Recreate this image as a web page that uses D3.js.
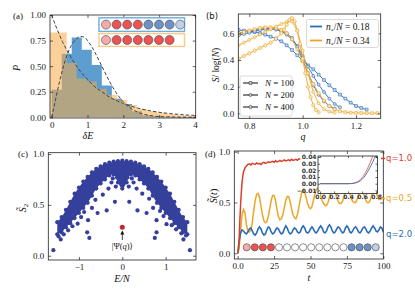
<!DOCTYPE html>
<html lang="en">
<head>
<meta charset="utf-8">
<title>Four panels</title>
<script src="https://cdnjs.cloudflare.com/ajax/libs/d3/7.8.5/d3.min.js"></script>
<style>
  body { margin: 0; background: #fff; }
  svg { display: block; }
</style>
</head>
<body>
<script>
// ---------- data: panel (a) ----------
var binW = 0.28;
var blueStart = 0.0;
var blueHist = [0.27, 0.62, 0.78, 0.66, 0.51, 0.31, 0.18, 0.13, 0.06, 0.02, 0.01, 0.005, 0.003, 0.002, 0.001];
var orangeStart = -0.14;
var orangeHist = [0.83, 0.83, 0.53, 0.38, 0.35, 0.28, 0.22, 0.17, 0.12, 0.08, 0.06, 0.045, 0.03, 0.02, 0.015];
var poisS = [0, 0.1, 0.2, 0.3, 0.4, 0.5, 0.6, 0.8, 1.0, 1.2, 1.4, 1.6, 1.8, 2.0, 2.4, 2.8, 3.2, 3.6, 4.0];
var poisP = [1.0, 0.905, 0.82, 0.74, 0.67, 0.61, 0.55, 0.45, 0.37, 0.30, 0.25, 0.20, 0.165, 0.135, 0.09, 0.06, 0.04, 0.027, 0.018];
var wigS = [0, 0.1, 0.2, 0.3, 0.4, 0.5, 0.6, 0.7, 0.8, 0.9, 1.0, 1.1, 1.2, 1.3, 1.4, 1.6, 1.8, 2.0, 2.2, 2.4, 2.7, 3.0, 3.5, 4.0];
var wigP = [0, 0.16, 0.32, 0.46, 0.58, 0.67, 0.73, 0.77, 0.79, 0.785, 0.75, 0.70, 0.64, 0.57, 0.50, 0.36, 0.24, 0.15, 0.09, 0.05, 0.02, 0.007, 0.002, 0];
var chainBlue = ["p", "r", "r", "r", "b", "b", "b", "l"];
var chainOrange = ["p", "r", "r", "r", "r", "r", "r"];

// ---------- data: panel (b) ----------
var qB100 = [0.76,0.78,0.80,0.82,0.84,0.86,0.88,0.90,0.92,0.94,0.96,0.98,1.00,1.02,1.04,1.06,1.08,1.10,1.12,1.14,1.16,1.18,1.20,1.22,1.24];
var sB100 = [0.625,0.62,0.615,0.61,0.60,0.59,0.575,0.56,0.54,0.51,0.475,0.435,0.395,0.36,0.33,0.29,0.25,0.21,0.175,0.14,0.11,0.08,0.055,0.04,0.028];
var qB200 = [0.76,0.78,0.80,0.82,0.84,0.86,0.88,0.90,0.92,0.94,0.96,0.98,1.00,1.02,1.04,1.06,1.08,1.10,1.12,1.14];
var sB200 = [0.60,0.61,0.615,0.625,0.63,0.635,0.635,0.63,0.615,0.59,0.555,0.505,0.43,0.35,0.28,0.215,0.16,0.11,0.07,0.045];
var qB400 = [0.76,0.78,0.80,0.82,0.84,0.86,0.88,0.90,0.92,0.94,0.96,0.98,1.00,1.02,1.04,1.06,1.08,1.10,1.12];
var sB400 = [0.585,0.595,0.605,0.615,0.625,0.63,0.635,0.63,0.62,0.60,0.565,0.50,0.40,0.30,0.21,0.14,0.09,0.055,0.035];
var qO100 = [0.76,0.78,0.80,0.82,0.84,0.86,0.88,0.90,0.92,0.94,0.96,0.98,1.00,1.02,1.04,1.06,1.08,1.10,1.12,1.14,1.16,1.18,1.20,1.22,1.24,1.26,1.28];
var sO100 = [0.60,0.61,0.62,0.63,0.64,0.645,0.645,0.64,0.625,0.60,0.555,0.48,0.39,0.30,0.22,0.15,0.095,0.055,0.03,0.015,0.008,0.005,0.003,0.002,0.001,0.001,0.001];
var qO200 = [0.76,0.78,0.80,0.82,0.84,0.86,0.88,0.90,0.92,0.94,0.96,0.98,1.00,1.02,1.04,1.06,1.08,1.10,1.12];
var sO200 = [0.51,0.53,0.55,0.57,0.59,0.61,0.63,0.65,0.67,0.685,0.69,0.62,0.47,0.30,0.16,0.075,0.03,0.012,0.005];
var qO400 = [0.76,0.78,0.80,0.82,0.84,0.86,0.88,0.90,0.92,0.93,0.94,0.95,0.96,0.97,0.98,0.99,1.00,1.01,1.02,1.03,1.04,1.05,1.06];
var sO400 = [0.41,0.43,0.45,0.47,0.49,0.51,0.53,0.56,0.60,0.63,0.665,0.70,0.715,0.69,0.62,0.52,0.41,0.30,0.20,0.12,0.06,0.025,0.008];
var sizeLabels = ["N = 100", "N = 200", "N = 400"];
var fracLabels = ["0.18", "0.34"];

// ---------- data: panel (c) ----------
var bandE   = [-1.5,-1.4,-1.3,-1.2,-1.1,-1.0,-0.9,-0.8,-0.7,-0.6,-0.5,-0.4,-0.3,-0.2,-0.1,0,0.1,0.2,0.3,0.4,0.5,0.6,0.7,0.8,0.9,1.0,1.1,1.2,1.3,1.4,1.5];
var bandTop = [0.33,0.38,0.45,0.53,0.61,0.67,0.73,0.775,0.82,0.855,0.88,0.90,0.915,0.925,0.93,0.935,0.93,0.925,0.915,0.90,0.88,0.855,0.82,0.775,0.73,0.67,0.61,0.53,0.45,0.38,0.33];
var bandBot = [0.21,0.23,0.28,0.32,0.37,0.42,0.47,0.52,0.59,0.66,0.71,0.75,0.79,0.80,0.72,0.66,0.72,0.80,0.79,0.75,0.71,0.66,0.59,0.52,0.47,0.42,0.37,0.32,0.28,0.23,0.21];
var looseE = [-1.59,-1.42,-1.47,-1.35,-1.25,-1.15,-1.03,-0.95,-0.81,-0.76,-0.79,-0.88,-0.70,-0.57,-0.62,-0.45,-0.36,-0.17,-0.32,-0.25,-0.15,-0.22,-0.12,
              1.56,1.41,1.47,1.36,1.24,1.14,1.02,0.95,0.79,0.75,0.79,0.87,0.71,0.56,0.62,0.46,0.35,0.16,0.33,0.26,0.15,0.22,0.12];
var looseS = [0.055,0.16,0.19,0.21,0.25,0.29,0.315,0.38,0.23,0.175,0.35,0.43,0.47,0.42,0.55,0.60,0.445,0.53,0.66,0.72,0.68,0.76,0.77,
              0.055,0.16,0.20,0.22,0.26,0.30,0.31,0.39,0.23,0.175,0.35,0.44,0.47,0.42,0.56,0.61,0.445,0.53,0.66,0.72,0.68,0.76,0.77];
var stateE = 0, stateS = 0.28;

// ---------- data: panel (d) ----------
var tRed = [0,0.5,1,1.5,2,2.5,3,3.5,4,5,6,7,8,9,10,11,12,13,14,15,16,17,18,19,20,21,22,23,24,25,26,27,28,29,30,31,32,33,34,35,36,37,38,39,40,41,42,43];
var sRed = [0,0.03,0.15,0.33,0.48,0.6,0.7,0.76,0.8,
  0.84,0.86,0.875,0.88,0.87,0.885,0.88,0.875,0.89,0.88,0.885,0.875,0.89,0.895,0.885,0.89,0.9,0.895,0.9,0.905,
  0.895,0.91,0.9,0.905,0.915,0.905,0.91,0.92,0.91,0.915,0.92,0.91,0.925,0.915,0.92,0.925,0.915,0.93,0.925];
var tGrid = d3.range(0, 101);
var sOrange = [0,0.05,0.22,0.38,0.43,0.40,0.28,0.22,0.21,0.23,
  0.30,0.42,0.52,0.58,0.59,0.55,0.46,0.38,0.32,0.30,
  0.31,0.36,0.44,0.52,0.57,0.57,0.52,0.43,0.36,0.33,
  0.34,0.38,0.45,0.52,0.56,0.56,0.51,0.44,0.38,0.35,
  0.34,0.38,0.45,0.53,0.60,0.62,0.60,0.55,0.49,0.45,
  0.44,0.46,0.52,0.58,0.63,0.64,0.62,0.57,0.52,0.49,
  0.47,0.47,0.50,0.55,0.60,0.64,0.64,0.60,0.55,0.51,
  0.49,0.49,0.51,0.56,0.61,0.64,0.63,0.59,0.54,0.51,
  0.50,0.50,0.53,0.58,0.62,0.63,0.60,0.56,0.52,0.50,
  0.50,0.52,0.57,0.61,0.62,0.60,0.56,0.53,0.53,0.54,
  0.55];
var sBlue = [0,0.12,0.20,0.23,0.22,0.20,0.19,0.21,0.24,0.25,
  0.22,0.19,0.18,0.20,0.24,0.26,0.24,0.20,0.18,0.19,
  0.23,0.26,0.25,0.21,0.19,0.20,0.23,0.25,0.24,0.21,
  0.19,0.20,0.24,0.27,0.25,0.21,0.19,0.20,0.23,0.25,
  0.24,0.21,0.20,0.21,0.25,0.27,0.25,0.21,0.20,0.21,
  0.24,0.26,0.24,0.21,0.20,0.22,0.25,0.27,0.25,0.21,
  0.20,0.22,0.26,0.28,0.26,0.22,0.20,0.21,0.24,0.26,
  0.25,0.22,0.20,0.21,0.25,0.27,0.25,0.21,0.20,0.22,
  0.25,0.26,0.24,0.21,0.20,0.22,0.25,0.26,0.24,0.21,
  0.20,0.22,0.25,0.27,0.25,0.22,0.21,0.23,0.26,0.25,
  0.21];
var insetX = [0,0.1,0.2,0.3,0.4,0.45,0.5,0.55,0.6,0.65,0.7,0.75,0.8];
var insetRed = [0,0,0,0,0,0.0003,0.0015,0.004,0.009,0.017,0.028,0.041,0.056];
var insetBlue = [0,0,0,0,0,0.0002,0.001,0.003,0.0065,0.013,0.022,0.032,0.044];
var chainD = ["p","r","r","r","e","e","e","e","e","e","e","e","e","b","b","b","l"];
var qLabels = ["q=1.0", "q=0.5", "q=2.0"];

// ---------- setup ----------
var SERIF = "Liberation Serif, DejaVu Serif, serif";
var SANS = "DejaVu Sans, sans-serif";
var BLUE = "#2b6cb9", ORANGE = "#eea526", RED = "#d7412b", NAVY = "#353f9c";
var siteColor = { p: "#f5abab", r: "#ec5454", b: "#6f92c6", l: "#bed0e8", e: "#ffffff" };

var svg = d3.select("body").append("svg").attr("width", 415).attr("height", 290);
svg.append("rect").attr("width", 415).attr("height", 290).attr("fill", "#fff");
var defs = svg.append("defs");

function clip(id, x, y) {
  var r = x.range(), s = y.range();
  defs.append("clipPath").attr("id", id).append("rect")
    .attr("x", r[0]).attr("y", s[1]).attr("width", r[1] - r[0]).attr("height", s[0] - s[1]);
  return "url(#" + id + ")";
}

// inward ticks on all four sides, labels bottom and left
function frame(g, x, y, xt, xf, yt, yf, o) {
  o = o || {};
  var len = o.len || 3, pad = o.pad || 4, font = o.font || SERIF, fs = o.fs || 9;
  var r = x.range(), s = y.range();
  g.append("g").attr("transform", "translate(0," + s[0] + ")")
    .call(d3.axisBottom(x).tickValues(xt).tickFormat(xf).tickSizeInner(-len).tickSizeOuter(0).tickPadding(pad));
  g.append("g").attr("transform", "translate(0," + s[1] + ")")
    .call(d3.axisTop(x).tickValues(xt).tickFormat("").tickSizeInner(-len).tickSizeOuter(0));
  g.append("g").attr("transform", "translate(" + r[0] + ",0)")
    .call(d3.axisLeft(y).tickValues(yt).tickFormat(yf).tickSizeInner(-len).tickSizeOuter(0).tickPadding(pad));
  g.append("g").attr("transform", "translate(" + r[1] + ",0)")
    .call(d3.axisRight(y).tickValues(yt).tickFormat("").tickSizeInner(-len).tickSizeOuter(0));
  g.selectAll(".domain").remove();
  g.selectAll(".tick line").attr("stroke", "#222").attr("stroke-width", 0.7);
  g.selectAll(".tick text").attr("font-family", font).attr("font-size", fs).attr("fill", "#222");
  g.append("rect").attr("x", r[0]).attr("y", s[1]).attr("width", r[1] - r[0]).attr("height", s[0] - s[1])
    .attr("fill", "none").attr("stroke", "#222").attr("stroke-width", 0.8);
}

function label(g, txt, x, y, o) {
  o = o || {};
  var t = g.append("text").attr("x", x).attr("y", y)
    .attr("font-family", o.font || SERIF).attr("font-size", o.fs || 10)
    .attr("font-style", o.italic ? "italic" : "normal")
    .attr("text-anchor", o.anchor || "middle").attr("fill", o.fill || "#111").text(txt);
  if (o.rot) t.attr("transform", "rotate(-90," + x + "," + y + ")");
  return t;
}

// ================= panel (a) =================
var ga = svg.append("g");
var xa = d3.scaleLinear().domain([-0.047, 4.02]).range([50, 195.7]);
var ya = d3.scaleLinear().domain([-0.007, 1.0]).range([118, 15]);
var ca = ga.append("g").attr("clip-path", clip("clipA", xa, ya));

function histPts(start, h) {
  var pts = h.map(function (v, i) { return { x: start + i * binW, h: v }; });
  pts.push({ x: start + h.length * binW, h: h[h.length - 1] });
  return pts;
}
var histArea = d3.area().curve(d3.curveStepAfter)
  .x(function (d) { return xa(d.x); }).y0(ya(0)).y1(function (d) { return ya(d.h); });
ca.append("path").attr("d", histArea(histPts(blueStart, blueHist))).attr("fill", "#5e9dcf");
ca.append("path").attr("d", histArea(histPts(orangeStart, orangeHist))).attr("fill", "#f8ab46").attr("fill-opacity", 0.55);

var dash = d3.line().curve(d3.curveMonotoneX)
  .x(function (d) { return xa(d[0]); }).y(function (d) { return ya(d[1]); });
ca.append("path").attr("d", dash(d3.zip(poisS, poisP))).attr("fill", "none")
  .attr("stroke", "#444").attr("stroke-width", 1).attr("stroke-dasharray", "3.5,2");
ca.append("path").attr("d", dash(d3.zip(wigS, wigP))).attr("fill", "none")
  .attr("stroke", "#444").attr("stroke-width", 1).attr("stroke-dasharray", "3.5,2");

frame(ga, xa, ya, [0, 1, 2, 3, 4], d3.format("d"), [0, 0.25, 0.5, 0.75, 1], d3.format(".2f"));

function chain(g, states, x0, step, cy, r) {
  g.selectAll(null).data(states).join("circle")
    .attr("cx", function (d, i) { return x0 + i * step; }).attr("cy", cy).attr("r", r)
    .attr("fill", function (d) { return siteColor[d]; })
    .attr("stroke", "#444").attr("stroke-width", 0.6);
}
ga.append("rect").attr("x", 99).attr("y", 17.8).attr("width", 85.5).attr("height", 13.6)
  .attr("fill", "#fff").attr("stroke", "#6aaee0").attr("stroke-width", 1.4);
chain(ga, chainBlue, 106, 10.6, 24.6, 4.5);
ga.append("rect").attr("x", 99).attr("y", 33.6).attr("width", 85.5).attr("height", 12.8)
  .attr("fill", "#fff").attr("stroke", "#fbc98a").attr("stroke-width", 1.4);
chain(ga, chainOrange, 106, 10.6, 40, 4.5);

label(ga, "(a)", 13, 19, { fs: 9, anchor: "start" });
label(ga, "δE", 88, 139, { italic: true, fs: 10 });
label(ga, "P", 20, 68, { italic: true, fs: 10, rot: true });

// ================= panel (b) =================
var gb = svg.append("g");
var xb = d3.scaleLinear().domain([0.7588, 1.2926]).range([238.3, 380.7]);
var yb = d3.scaleLinear().domain([-0.0375, 0.745]).range([118.3, 14]);
var cb = gb.append("g").attr("clip-path", clip("clipB", xb, yb));

var hexagon = {
  draw: function (ctx, size) {
    var r = Math.sqrt(size / 2.598);
    for (var i = 0; i < 6; i++) {
      var a = Math.PI / 3 * i + Math.PI / 6;
      if (i === 0) ctx.moveTo(r * Math.cos(a), r * Math.sin(a));
      else ctx.lineTo(r * Math.cos(a), r * Math.sin(a));
    }
    ctx.closePath();
  }
};
var marks = [d3.symbol(d3.symbolSquare, 8), d3.symbol(d3.symbolCircle, 7), d3.symbol(hexagon, 8)];

var curvesB = [
  { q: qB100, s: sB100, c: BLUE, m: 0 }, { q: qB200, s: sB200, c: BLUE, m: 1 }, { q: qB400, s: sB400, c: BLUE, m: 2 },
  { q: qO100, s: sO100, c: ORANGE, m: 0 }, { q: qO200, s: sO200, c: ORANGE, m: 1 }, { q: qO400, s: sO400, c: ORANGE, m: 2 }
];
var lineB = d3.line().x(function (d) { return xb(d[0]); }).y(function (d) { return yb(d[1]); });
curvesB.forEach(function (cv) {
  var pts = d3.zip(cv.q, cv.s);
  cb.append("path").attr("d", lineB(pts)).attr("fill", "none").attr("stroke", cv.c).attr("stroke-width", 0.9);
  cb.selectAll(null).data(pts).join("path")
    .attr("d", marks[cv.m])
    .attr("transform", function (d) { return "translate(" + xb(d[0]) + "," + yb(d[1]) + ")"; })
    .attr("fill", d3.interpolateRgb(cv.c, "#fff")(0.75)).attr("stroke", cv.c).attr("stroke-width", 0.6);
});

frame(gb, xb, yb, [0.8, 1.0, 1.2], d3.format(".1f"), [0, 0.2, 0.4, 0.6], d3.format(".1f"));

// legend: colours
gb.append("rect").attr("x", 306.5).attr("y", 19.5).attr("width", 72).attr("height", 28).attr("rx", 2)
  .attr("fill", "#fff").attr("fill-opacity", 0.85).attr("stroke", "#ccc").attr("stroke-width", 0.7);
[BLUE, ORANGE].forEach(function (c, i) {
  var yy = 26.5 + i * 14;
  gb.append("line").attr("x1", 310).attr("x2", 322).attr("y1", yy).attr("y2", yy).attr("stroke", c).attr("stroke-width", 1.8);
  var t = gb.append("text").attr("x", 326).attr("y", yy + 3.2).attr("font-family", SERIF).attr("font-size", 9.5).attr("fill", "#111");
  t.append("tspan").attr("font-style", "italic").text("n");
  t.append("tspan").attr("font-size", 6).attr("dy", 2).text("∘");
  t.append("tspan").attr("dy", -2).text("/");
  t.append("tspan").attr("font-style", "italic").text("N");
  t.append("tspan").text(" = " + fracLabels[i]);
});
// legend: sizes
gb.append("rect").attr("x", 240).attr("y", 76).attr("width", 52).attr("height", 40).attr("rx", 2)
  .attr("fill", "#fff").attr("fill-opacity", 0.85).attr("stroke", "#ccc").attr("stroke-width", 0.7);
sizeLabels.forEach(function (s, i) {
  var yy = 83 + i * 12;
  gb.append("line").attr("x1", 243).attr("x2", 258).attr("y1", yy).attr("y2", yy).attr("stroke", "#333").attr("stroke-width", 1.2);
  gb.append("path").attr("d", marks[i]).attr("transform", "translate(250.5," + yy + ")")
    .attr("fill", "#ccc").attr("stroke", "#333").attr("stroke-width", 0.6);
  var t = gb.append("text").attr("x", 265).attr("y", yy + 3.2).attr("font-family", SERIF).attr("font-size", 9).attr("fill", "#111");
  t.append("tspan").attr("font-style", "italic").text("N");
  t.append("tspan").text(s.slice(1));
});

label(gb, "(b)", 206, 19, { font: SANS, fs: 8.5, anchor: "start" });
label(gb, "q", 303, 140, { italic: true, fs: 10 });
var ylb = gb.append("text").attr("transform", "translate(219,65) rotate(-90)")
  .attr("text-anchor", "middle").attr("font-family", SERIF).attr("font-size", 9.5).attr("fill", "#111");
ylb.append("tspan").attr("font-style", "italic").text("S");
ylb.append("tspan").text("/ log(");
ylb.append("tspan").attr("font-style", "italic").text("N");
ylb.append("tspan").text(")");

// ================= panel (c) =================
var gc = svg.append("g");
var xc = d3.scaleLinear().domain([-1.707, 1.70]).range([48.3, 196]);
var yc = d3.scaleLinear().domain([-0.042, 1.013]).range([260, 152.7]);
var cc = gc.append("g").attr("clip-path", clip("clipC", xc, yc));

var band = d3.zip(bandE, bandTop, bandBot);
cc.append("path").attr("fill", NAVY)
  .attr("d", d3.area().curve(d3.curveCatmullRom)
    .x(function (d) { return xc(d[0]); }).y0(function (d) { return yc(d[2]); }).y1(function (d) { return yc(d[1]); })(band));
var edgeDots = band.map(function (d) { return [d[0], d[1]]; }).concat(band.map(function (d) { return [d[0], d[2]]; }))
  .concat(d3.zip(looseE, looseS));
cc.selectAll(null).data(edgeDots).join("circle")
  .attr("cx", function (d) { return xc(d[0]); }).attr("cy", function (d) { return yc(d[1]); })
  .attr("r", 2.1).attr("fill", NAVY);
cc.append("circle").attr("cx", xc(stateE)).attr("cy", yc(stateS)).attr("r", 2.5).attr("fill", "#c0282a");

frame(gc, xc, yc, [-1, 0, 1], d3.format("d"), [0, 0.5, 1], d3.format(".1f"));

gc.append("line").attr("x1", xc(0)).attr("x2", xc(0)).attr("y1", 240).attr("y2", 232.5)
  .attr("stroke", "#111").attr("stroke-width", 0.8);
gc.append("path").attr("d", "M" + (xc(0) - 2) + ",234.5 L" + xc(0) + ",230.5 L" + (xc(0) + 2) + ",234.5 Z").attr("fill", "#111");
var psi = gc.append("text").attr("x", xc(0)).attr("y", 249).attr("text-anchor", "middle")
  .attr("font-family", SERIF).attr("font-size", 8.5).attr("fill", "#111");
psi.append("tspan").text("|Ψ(");
psi.append("tspan").attr("font-style", "italic").text("q");
psi.append("tspan").text(")⟩");

label(gc, "(c)", 18, 157, { fs: 9, anchor: "start" });
label(gc, "E/N", 122, 282, { italic: true, fs: 10 });
var ylc = gc.append("text").attr("transform", "translate(26,208) rotate(-90)")
  .attr("text-anchor", "middle").attr("font-family", SERIF).attr("font-size", 10).attr("fill", "#111");
ylc.append("tspan").attr("font-style", "italic").text("S̃");
ylc.append("tspan").attr("font-size", 7).attr("dy", 2).text("2");

// ================= panel (d) =================
var gd = svg.append("g");
var xd = d3.scaleLinear().domain([-2.33, 100]).range([234.3, 383.3]);
var yd = d3.scaleLinear().domain([-0.056, 1.007]).range([259, 151]);
var cd = gd.append("g").attr("clip-path", clip("clipD", xd, yd));
var lineD = d3.line().x(function (d) { return xd(d[0]); }).y(function (d) { return yd(d[1]); });

cd.append("path").attr("d", lineD(d3.zip(tGrid, sOrange))).attr("fill", "none").attr("stroke", ORANGE).attr("stroke-width", 1.5);
cd.append("path").attr("d", lineD(d3.zip(tGrid, sBlue))).attr("fill", "none").attr("stroke", BLUE).attr("stroke-width", 1.6);
cd.append("path").attr("d", lineD(d3.zip(tRed, sRed))).attr("fill", "none").attr("stroke", RED).attr("stroke-width", 1.5);

var site = d3.scalePoint().domain(d3.range(chainD.length)).range([246.7, 375.7]);
gd.selectAll(null).data(chainD).join("circle")
  .attr("cx", function (d, i) { return site(i); }).attr("cy", 247.3).attr("r", 3.6)
  .attr("fill", function (d) { return siteColor[d]; }).attr("stroke", "#444").attr("stroke-width", 0.6);

frame(gd, xd, yd, [0, 25, 50, 75, 100], function (d) { return d === 0 ? "0.0" : d; }, [0, 0.5, 1], d3.format(".1f"));

// inset
var xi = d3.scaleLinear().domain([-0.03, 0.82]).range([318, 377.5]);
var yi = d3.scaleLinear().domain([-0.0147, 0.0415]).range([193.5, 156]);
var gi = gd.append("g");
gi.append("rect").attr("x", 318).attr("y", 156).attr("width", 59.5).attr("height", 37.5).attr("fill", "#fff");
var ci = gi.append("g").attr("clip-path", clip("clipI", xi, yi));
var lineI = d3.line().curve(d3.curveMonotoneX).x(function (d) { return xi(d[0]); }).y(function (d) { return yi(d[1]); });
ci.append("path").attr("d", lineI(d3.zip(insetX, insetRed))).attr("fill", "none").attr("stroke", "#e0604c").attr("stroke-width", 0.9);
ci.append("path").attr("d", lineI(d3.zip(insetX, insetBlue))).attr("fill", "none").attr("stroke", "#3d6aae").attr("stroke-width", 0.9);
frame(gi, xi, yi, [0, 0.2, 0.4, 0.6, 0.8], d3.format(".1f"), [-0.01, 0, 0.01, 0.02, 0.03, 0.04], d3.format(".2f"),
  { len: 2, pad: 1.5, font: SANS, fs: 6 });
gi.selectAll(".tick text").attr("font-weight", "bold").attr("fill", "#333");

[[RED, 0.934], [ORANGE, 0.54], [BLUE, 0.187]].forEach(function (d, i) {
  var yy = yd(d[1]);
  if (i < 2) gd.append("line").attr("x1", 381).attr("x2", 385).attr("y1", yy).attr("y2", yy).attr("stroke", d[0]).attr("stroke-width", 1.5);
  label(gd, qLabels[i], 386, yy + 3, { font: SANS, fs: 8.5, anchor: "start", fill: d[0] });
});

label(gd, "(d)", 205, 157, { fs: 9, anchor: "start" });
label(gd, "t", 309, 281, { italic: true, fs: 10 });
var yld = gd.append("text").attr("transform", "translate(217,196) rotate(-90)")
  .attr("text-anchor", "middle").attr("font-family", SERIF).attr("font-size", 10).attr("fill", "#111");
yld.append("tspan").attr("font-style", "italic").text("S̃");
yld.append("tspan").text("(");
yld.append("tspan").attr("font-style", "italic").text("t");
yld.append("tspan").text(")");
</script>
</body>
</html>
